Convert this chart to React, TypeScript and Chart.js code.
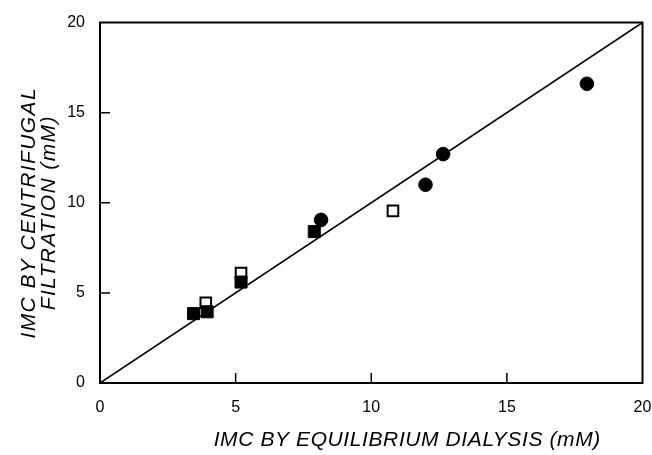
import React, { useEffect, useRef } from "react";
import { Chart, registerables } from "chart.js";

Chart.register(...registerables);

// Filled squares
const filledSquareX = [3.45, 3.95, 5.2, 7.9];
const filledSquareY = [3.85, 3.95, 5.6, 8.4];
// Open squares
const openSquareX = [3.9, 5.2, 10.8];
const openSquareY = [4.45, 6.1, 9.55];
// Filled circles
const circleX = [8.15, 12.0, 12.65, 17.95];
const circleY = [9.05, 11.0, 12.7, 16.6];
// Line of identity
const identityX = [0, 20];
const identityY = [0, 20];

const axisMin = 0;
const axisMax = 20;
const tickStep = 5;
const tickValues = [0, 5, 10, 15, 20];

const xTitle = "IMC BY EQUILIBRIUM DIALYSIS (mM)";
const yTitleLines = ["IMC BY CENTRIFUGAL", "FILTRATION (mM)"];

const FONT = "'Liberation Sans', Arial, Helvetica, sans-serif";

const toPoints = (xs: number[], ys: number[]) => xs.map((x, i) => ({ x, y: ys[i] }));

const framePlugin = {
  id: "frameTicksTitles",
  afterDatasetsDraw(chart: any) {
    const { ctx, chartArea } = chart;
    const { left, right, top, bottom } = chartArea;
    const xs = chart.scales.x;
    const ys = chart.scales.y;
    ctx.save();
    ctx.strokeStyle = "#000";
    ctx.lineWidth = 2;
    ctx.strokeRect(left, top, right - left, bottom - top);
    ctx.lineWidth = 1.5;
    ctx.beginPath();
    for (const v of tickValues) {
      if (v <= axisMin || v >= axisMax) continue;
      const px = xs.getPixelForValue(v);
      ctx.moveTo(px, bottom);
      ctx.lineTo(px, bottom - 10);
      const py = ys.getPixelForValue(v);
      ctx.moveTo(left, py);
      ctx.lineTo(left + 10, py);
    }
    ctx.stroke();

    // Axis titles
    ctx.fillStyle = "#000";
    ctx.font = `italic 21px ${FONT}`;
    ctx.textAlign = "center";
    ctx.textBaseline = "middle";
    try {
      (ctx as any).letterSpacing = "0.6px";
    } catch (e) {}
    const cx = (left + right) / 2 + 36;
    ctx.fillText(xTitle, cx, bottom + 57);

    try {
      (ctx as any).letterSpacing = "1.4px";
    } catch (e) {}
    const cy = (top + bottom) / 2 + 10;
    const lineXs = [left - 71, left - 51];
    yTitleLines.forEach((line, i) => {
      ctx.save();
      ctx.translate(lineXs[i], cy);
      ctx.rotate(-Math.PI / 2);
      ctx.fillText(line, 0, 0);
      ctx.restore();
    });
    ctx.restore();
  },
};

export default function App() {
  const canvasRef = useRef<HTMLCanvasElement | null>(null);

  useEffect(() => {
    document.body.style.margin = "0";
    const canvas = canvasRef.current;
    if (!canvas) return;
    const chart = new Chart(canvas, {
      type: "scatter",
      data: {
        datasets: [
          {
            label: "Filled squares",
            data: toPoints(filledSquareX, filledSquareY),
            pointStyle: "rect",
            pointRadius: 8.5,
            backgroundColor: "#000",
            borderColor: "#000",
            borderWidth: 1,
          },
          {
            label: "Open squares",
            data: toPoints(openSquareX, openSquareY),
            pointStyle: "rect",
            pointRadius: 7.5,
            backgroundColor: "#fff",
            borderColor: "#000",
            borderWidth: 2,
          },
          {
            label: "Circles",
            data: toPoints(circleX, circleY),
            pointStyle: "circle",
            pointRadius: 6.8,
            backgroundColor: "#000",
            borderColor: "#000",
            borderWidth: 1,
          },
          {
            label: "Identity",
            data: toPoints(identityX, identityY),
            showLine: true,
            pointRadius: 0,
            borderColor: "#000",
            borderWidth: 1.6,
            fill: false,
          },
        ],
      },
      options: {
        responsive: false,
        animation: false,
        devicePixelRatio: 1,
        layout: { padding: { left: 0, right: 8, top: 22.5, bottom: 0 } },
        plugins: {
          legend: { display: false },
          tooltip: { enabled: false },
        },
        scales: {
          x: {
            type: "linear",
            min: axisMin,
            max: axisMax,
            ticks: {
              stepSize: tickStep,
              color: "#000",
              font: { size: 16, family: FONT },
              padding: 15,
              maxRotation: 0,
            },
            grid: { drawOnChartArea: false, drawTicks: false },
            border: { display: false },
            afterFit: (s: any) => {
              s.height = 72;
              s.paddingLeft = 0;
              s.paddingRight = 0;
            },
          },
          y: {
            type: "linear",
            min: axisMin,
            max: axisMax,
            ticks: {
              stepSize: tickStep,
              color: "#000",
              font: { size: 16, family: FONT },
              padding: 15,
            },
            grid: { drawOnChartArea: false, drawTicks: false },
            border: { display: false },
            afterFit: (s: any) => {
              s.width = 100;
              s.paddingTop = 0;
              s.paddingBottom = 0;
            },
          },
        },
      },
      plugins: [framePlugin],
    });
    return () => chart.destroy();
  }, []);

  return (
    <div style={{ position: "absolute", left: 0, top: 0, width: 652, height: 455 }}>
      <canvas ref={canvasRef} width={652} height={455} />
    </div>
  );
}
